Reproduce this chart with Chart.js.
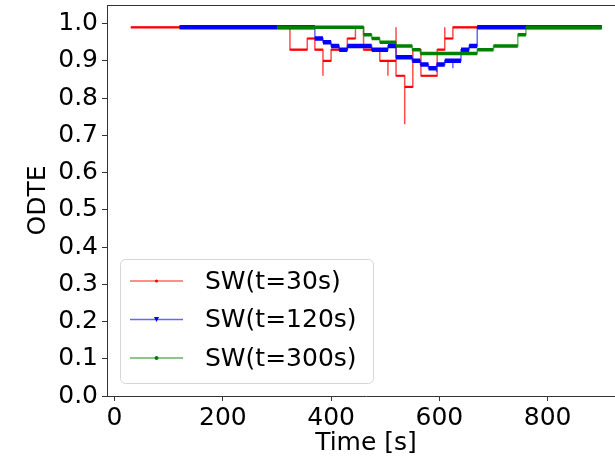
<!DOCTYPE html>
<html>
<head>
<meta charset="utf-8">
<script src="https://cdn.jsdelivr.net/npm/chart.js@4.4.1/dist/chart.umd.min.js"></script>
<style>
  html, body { margin: 0; padding: 0; background: #fff; overflow: hidden; }
  #wrap { width: 630px; height: 461px; }
</style>
</head>
<body>
<div id="wrap"><canvas id="odteChart" width="630" height="461"></canvas></div>
<script>
/* ===== DATA ===== */
const seriesLabels = ["SW(t=30s)", "SW(t=120s)", "SW(t=300s)"];

// time [s] where a step starts, and the ODTE value from that time on
const redT = [30, 324, 356, 370, 385, 385, 400, 430, 445, 460, 490, 505, 505, 520, 520, 536, 536, 551, 566, 596, 610, 610, 625, 900];
const redV = [0.99, 0.93, 0.96, 0.93, 0.86, 0.90, 0.93, 0.96, 0.99, 0.93, 0.90, 0.86, 0.90, 0.99, 0.86, 0.73, 0.83, 0.93, 0.86, 0.93, 0.99, 0.96, 0.99, 0.99];

const blueT = [120, 370, 385, 400, 415, 430, 475, 505, 520, 550, 565, 580, 595, 595, 610, 625, 625, 640, 655, 670, 900];
const blueV = [0.99, 0.96, 0.95, 0.94, 0.93, 0.94, 0.93, 0.94, 0.91, 0.90, 0.89, 0.88, 0.87, 0.89, 0.90, 0.88, 0.90, 0.93, 0.94, 0.99, 0.99];

const greenT = [300, 460, 475, 490, 520, 550, 565, 670, 700, 745, 760, 900];
const greenV = [0.99, 0.97, 0.96, 0.95, 0.94, 0.93, 0.92, 0.93, 0.94, 0.97, 0.99, 0.99];

const xTicks = [0, 200, 400, 600, 800];
const yTicks = [0.0, 0.1, 0.2, 0.3, 0.4, 0.5, 0.6, 0.7, 0.8, 0.9, 1.0];

/* ===== HELPERS ===== */
const FONT = "'DejaVu Sans', 'Liberation Sans', sans-serif";

function steps(ts, vs) {
  return ts.map((t, i) => ({ x: t, y: vs[i] }));
}

// the flat parts of a step line, drawn thicker (the dense markers in the original)
function flats(ts, vs) {
  const pts = [];
  for (let i = 0; i < ts.length - 1; i++) {
    if (ts[i + 1] === ts[i]) continue;
    pts.push({ x: ts[i], y: vs[i] }, { x: ts[i + 1], y: vs[i] }, { x: ts[i + 1], y: null });
  }
  return pts;
}

function stepSet(label, ts, vs, color, order) {
  return {
    label: label,
    data: steps(ts, vs),
    stepped: "before",
    borderColor: color,
    borderWidth: 1.5,
    pointRadius: 0,
    fill: false,
    order: order,
  };
}

function flatSet(ts, vs, color, width, order) {
  return {
    label: "",
    data: flats(ts, vs),
    borderColor: color,
    borderWidth: width,
    borderCapStyle: "butt",
    pointRadius: 0,
    spanGaps: false,
    fill: false,
    order: order,
  };
}

/* ===== PLUGINS ===== */
const frame = {
  id: "frame",
  afterDraw(chart) {
    const { ctx, chartArea } = chart;
    ctx.save();
    ctx.strokeStyle = "#333";
    ctx.lineWidth = 1;
    ctx.beginPath();
    ctx.moveTo(chartArea.left, chartArea.top + 0.5);
    ctx.lineTo(chartArea.right, chartArea.top + 0.5);
    ctx.lineTo(chartArea.right, chartArea.bottom);
    ctx.stroke();
    ctx.restore();
  },
};

const legendColors = ["rgba(255,0,0,0.6)", "rgba(0,0,255,0.6)", "rgba(0,128,0,0.6)"];
const markerColors = ["#ff0000", "#0000ff", "#008000"];

const boxLegend = {
  id: "boxLegend",
  afterDraw(chart) {
    const ctx = chart.ctx;
    ctx.save();
    ctx.beginPath();
    ctx.roundRect(120.5, 259.5, 253, 124, 5);
    ctx.fillStyle = "rgba(255,255,255,0.8)";
    ctx.fill();
    ctx.strokeStyle = "#d6d6d6";
    ctx.lineWidth = 1;
    ctx.stroke();

    const rows = [281, 319.5, 358];
    seriesLabels.forEach((lab, i) => {
      const y = rows[i];
      ctx.strokeStyle = legendColors[i];
      ctx.lineWidth = 1.5;
      ctx.beginPath();
      ctx.moveTo(130, y);
      ctx.lineTo(183, y);
      ctx.stroke();

      ctx.fillStyle = markerColors[i];
      ctx.beginPath();
      if (i === 1) {
        ctx.moveTo(154, y - 2.5);
        ctx.lineTo(159, y - 2.5);
        ctx.lineTo(156.5, y + 2.5);
        ctx.closePath();
      } else {
        ctx.arc(156.5, y, i === 0 ? 1.5 : 2, 0, Math.PI * 2);
      }
      ctx.fill();

      ctx.fillStyle = "#000";
      ctx.font = "25px " + FONT;
      ctx.textBaseline = "middle";
      ctx.textAlign = "left";
      ctx.fillText(lab, 205, y + 1);
    });
    ctx.restore();
  },
};

/* ===== ODTE CHART ===== */
const ctx = document.getElementById("odteChart");

new Chart(ctx, {
  type: "line",
  data: {
    datasets: [
      flatSet(greenT, greenV, "#008000", 3.5, 0),
      stepSet(seriesLabels[2], greenT, greenV, "rgba(0,128,0,0.6)", 1),
      flatSet(blueT, blueV, "#0000ff", 4.5, 2),
      stepSet(seriesLabels[1], blueT, blueV, "rgba(0,0,255,0.6)", 3),
      flatSet(redT, redV, "#ff0000", 2.2, 4),
      stepSet(seriesLabels[0], redT, redV, "rgba(255,0,0,0.7)", 5),
    ],
  },
  options: {
    responsive: false,
    animation: false,
    events: [],
    layout: { padding: { top: 5, right: 5, left: 0, bottom: 0 } },
    plugins: {
      legend: { display: false },
      tooltip: { enabled: false },
    },
    scales: {
      x: {
        type: "linear",
        min: -14,
        max: 943,
        grid: { drawOnChartArea: false, drawTicks: true, tickLength: 5, tickColor: "#333" },
        border: { color: "#333", width: 1 },
        ticks: {
          color: "#000",
          font: { family: FONT, size: 25 },
          padding: 2,
          maxRotation: 0,
          callback: (v) => String(v),
        },
        afterBuildTicks: (s) => { s.ticks = xTicks.map((v) => ({ value: v })); },
        afterFit: (s) => { s.height = 65; s.paddingLeft = 0; s.paddingRight = 0; },
        title: {
          display: true,
          text: "Time [s]",
          color: "#000",
          font: { family: FONT, size: 25 },
          padding: { top: 0, bottom: 3 },
        },
      },
      y: {
        min: 0,
        max: 1.05,
        grid: { drawOnChartArea: false, drawTicks: true, tickLength: 5, tickColor: "#333" },
        border: { color: "#333", width: 1 },
        ticks: {
          color: "#000",
          font: { family: FONT, size: 25 },
          padding: 4,
          callback: (v) => v.toFixed(1),
        },
        afterBuildTicks: (s) => { s.ticks = yTicks.map((v) => ({ value: v })); },
        afterFit: (s) => { s.width = 107; s.paddingTop = 0; s.paddingBottom = 0; },
        title: {
          display: true,
          text: "ODTE",
          color: "#000",
          font: { family: FONT, size: 25 },
          padding: { top: 23, bottom: 0 },
        },
      },
    },
  },
  plugins: [frame, boxLegend],
});
</script>
</body>
</html>
